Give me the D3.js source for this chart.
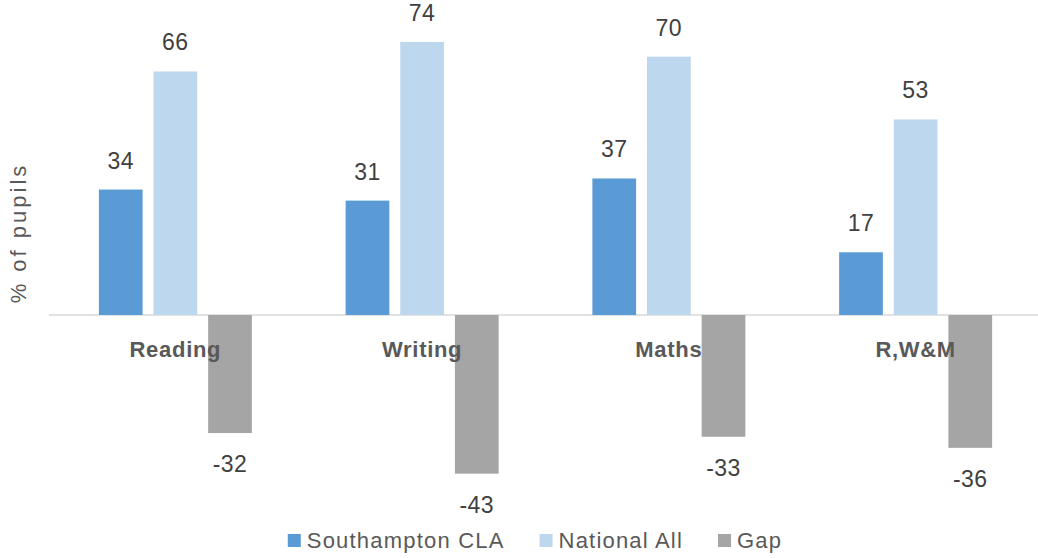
<!DOCTYPE html>
<html>
<head>
<meta charset="utf-8">
<script src="https://cdn.jsdelivr.net/npm/d3@7"></script>
<style>
  html, body { margin: 0; padding: 0; background: #ffffff; }
  svg { display: block; }
  text { font-family: "Liberation Sans", Arial, sans-serif; }
</style>
</head>
<body>
<svg id="chart" width="1038" height="558"></svg>
<script>
// Attainment by subject: Southampton CLA vs National All, plus the gap
const categories = ["Reading", "Writing", "Maths", "R,W&M"];
const seriesNames = ["Southampton CLA", "National All", "Gap"];
const southamptonCLA = [34, 31, 37, 17];
const nationalAll = [66, 74, 70, 53];
const gap = [-32, -43, -33, -36];
const seriesColors = ["#5b9bd5", "#bdd7ee", "#a5a5a5"];
const yAxisTitle = "% of pupils";

const seriesValues = [southamptonCLA, nationalAll, gap];
const rows = categories.map((c, i) => ({
  category: c,
  values: seriesNames.map((s, k) => ({ series: s, value: seriesValues[k][i], color: seriesColors[k] }))
}));

const svg = d3.select("#chart");

const x0 = d3.scaleBand()
  .domain(categories)
  .range([52, 1039])
  .paddingInner(0.38)
  .paddingOuter(0.19);

const x1 = d3.scaleBand()
  .domain(seriesNames)
  .range([0, x0.bandwidth()])
  .paddingInner(0.2)
  .paddingOuter(0);

const y = d3.scaleLinear()
  .domain([-50, 80])
  .range([499.5, 19.8]);

// zero line
svg.append("line")
  .attr("x1", 49).attr("x2", 1038)
  .attr("y1", y(0)).attr("y2", y(0))
  .attr("stroke", "#d9d9d9")
  .attr("stroke-width", 1.5);

const groups = svg.append("g").selectAll("g")
  .data(rows)
  .join("g")
  .attr("transform", d => `translate(${x0(d.category)},0)`);

groups.selectAll("rect")
  .data(d => d.values)
  .join("rect")
  .attr("x", d => x1(d.series))
  .attr("width", x1.bandwidth())
  .attr("y", d => y(Math.max(0, d.value)))
  .attr("height", d => Math.abs(y(d.value) - y(0)))
  .attr("fill", d => d.color);

// value labels
groups.selectAll("text.value")
  .data(d => d.values)
  .join("text")
  .attr("class", "value")
  .attr("x", d => x1(d.series) + x1.bandwidth() / 2)
  .attr("y", d => d.value >= 0 ? y(d.value) - 21 : y(d.value) + 39)
  .attr("text-anchor", "middle")
  .attr("font-size", 23)
  .attr("letter-spacing", 0.5)
  .attr("fill", "#404040")
  .text(d => d.value);

// category labels, drawn over the bars
svg.append("g").selectAll("text")
  .data(categories)
  .join("text")
  .attr("x", d => x0(d) + x0.bandwidth() / 2)
  .attr("y", 357)
  .attr("text-anchor", "middle")
  .attr("font-size", 22)
  .attr("font-weight", "bold")
  .attr("letter-spacing", 0.7)
  .attr("fill", "#595959")
  .text(d => d);

// y axis title
svg.append("text")
  .attr("transform", "translate(26,233) rotate(-90)")
  .attr("text-anchor", "middle")
  .attr("font-size", 22)
  .attr("letter-spacing", 3)
  .attr("fill", "#595959")
  .text(yAxisTitle);

// legend
const legend = svg.append("g").attr("transform", "translate(0,548)");
const items = legend.selectAll("g")
  .data(seriesNames.map((s, k) => ({ name: s, color: seriesColors[k] })))
  .join("g");
items.append("rect")
  .attr("x", 0).attr("y", -14)
  .attr("width", 13).attr("height", 13)
  .attr("fill", d => d.color);
items.append("text")
  .attr("x", 19)
  .attr("y", 0)
  .attr("font-size", 22)
  .attr("letter-spacing", 1.2)
  .attr("fill", "#595959")
  .text(d => d.name);

let cursor = 0;
const offsets = [];
items.each(function() {
  offsets.push(cursor);
  const w = d3.select(this).select("text").node().getComputedTextLength();
  cursor += 19 + w + 35;
});
const total = cursor - 35;
const start = 535 - total / 2;
items.attr("transform", (d, i) => `translate(${start + offsets[i]},0)`);
</script>
</body>
</html>
